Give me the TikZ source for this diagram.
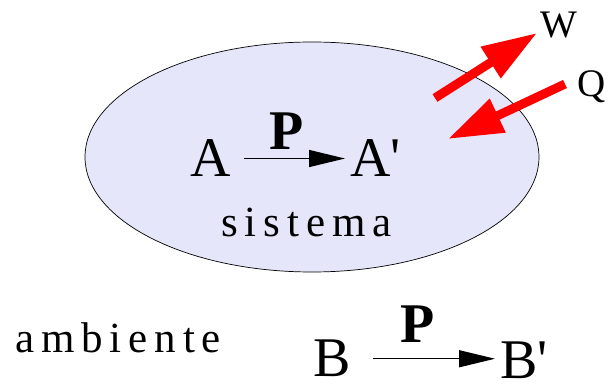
\documentclass[tikz,border=0pt]{standalone}
\usepackage{fontspec}
\setmainfont{Liberation Serif}
\usetikzlibrary{arrows.meta,shapes.geometric}
\definecolor{lav}{RGB}{230,230,250}
\definecolor{pured}{RGB}{255,0,0}
\tikzset{
  big/.style={inner sep=0pt, anchor=base west, font=\fontsize{56}{60}\selectfont},
  bigb/.style={inner sep=0pt, anchor=base west, font=\fontsize{56}{60}\selectfont\bfseries},
  mid/.style={inner sep=0pt, anchor=base west, font=\fontsize{39}{42}\selectfont},
  spaced/.style={inner sep=0pt, anchor=base west, font=\fontsize{43}{46}\selectfont\addfontfeature{LetterSpace=16}},
  proc/.style={line width=1.4pt, -{Triangle[length=36pt,width=17pt]}},
  flux/.style={pured, line width=9pt, -{Triangle[length=55pt,width=35pt]}},
}
\begin{document}
\begin{tikzpicture}[x=1pt,y=-1pt]
\useasboundingbox (0,0) rectangle (608,387);
\node[ellipse, draw=black, line width=0.7pt, fill=lav, minimum width=454pt, minimum height=230pt, inner sep=0pt] (sys) at (312,157) {};
\node[big] (A) at (190,177) {A};
\node[big] (A2) at (350,177) {A\textquotesingle};
\node[bigb] (P1) at (269,150) {P};
\node[spaced] (sis) at (221,237) {sistema};
\draw[proc] ([xshift=13pt]A.east) -- ([xshift=-5pt]A2.west |- A.east);
\node[mid] (W) at (540,38) {W};
\node[mid] (Q) at (577,97) {Q};
\coordinate (wt) at (435,98);
\coordinate (wh) at (537,33);
\coordinate (qt) at (565,84);
\coordinate (qh) at (448,139);
\draw[flux] (wt) -- (wh);
\draw[flux] (qt) -- (qh);
\node[spaced] (amb) at (15,353) {ambiente};
\node[big] (B) at (313,377) {B};
\node[big] (B2) at (500,378) {B\textquotesingle};
\node[bigb] (P2) at (400,343) {P};
\draw[proc] ([xshift=22pt]B.east) -- ([xshift=-5pt]B2.west |- B.east);
\end{tikzpicture}
\end{document}
